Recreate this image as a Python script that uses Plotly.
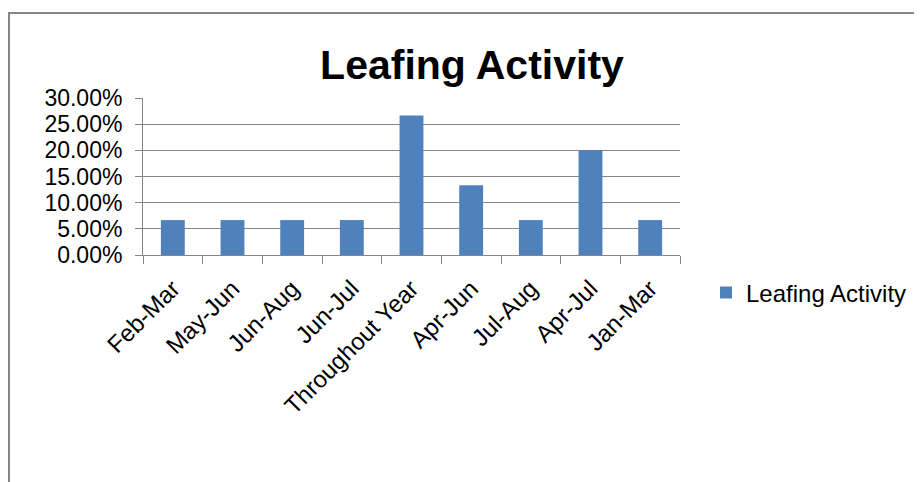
import plotly.graph_objects as go

categories = ["Feb-Mar", "May-Jun", "Jun-Aug", "Jun-Jul", "Throughout Year",
              "Apr-Jun", "Jul-Aug", "Apr-Jul", "Jan-Mar"]
values = [0.0667, 0.0667, 0.0667, 0.0667, 0.2667, 0.1333, 0.0667, 0.20, 0.0667]
series_name = "Leafing Activity"

FONT = "Liberation Sans"
GRAY = "#868686"

# page body has an 8px margin; positions below are in figure pixels
OFF = 8
L, R, T, B = 143 - OFF, 680 - OFF, 98 - OFF, 255 - OFF
W, H = 922, 482
pw, ph = R - L, B - T

fig = go.Figure()
fig.add_trace(go.Bar(
    x=categories, y=values, name=series_name,
    marker=dict(color="#4F81BD", line=dict(width=0)),
    showlegend=True,
))

fig.update_layout(
    width=W, height=H,
    margin=dict(l=L, r=W - R, t=T, b=H - B, pad=0),
    paper_bgcolor="white", plot_bgcolor="white",
    bargap=0.6,
    font=dict(family=FONT, size=22, color="black"),
    title=dict(text="<b>Leafing Activity</b>", font=dict(family=FONT, size=41, color="black"),
               x=(472 - OFF) / W, xanchor="center", y=(H - (65 - OFF)) / H, yanchor="middle"),
    showlegend=True,
    legend=dict(x=(706 - OFF - L) / pw, xanchor="left", y=(B - (293 - OFF)) / ph, yanchor="middle",
                font=dict(family=FONT, size=24, color="black"),
                bgcolor="rgba(0,0,0,0)"),
    xaxis=dict(
        type="category", showgrid=False, showline=True, linecolor=GRAY, linewidth=1,
        ticks="outside", ticklen=8, tickcolor=GRAY, tickson="boundaries",
        tickangle=-45, ticklabelstandoff=9,
        tickfont=dict(family=FONT, size=24, color="black"),
    ),
    yaxis=dict(
        range=[0, 0.30], dtick=0.05, tickformat=".2%",
        showgrid=True, gridcolor=GRAY, gridwidth=1,
        showline=True, linecolor=GRAY, linewidth=1,
        ticks="outside", ticklen=7, tickcolor=GRAY, ticklabelstandoff=8,
        tickfont=dict(family=FONT, size=23, color="black"), zeroline=False,
    ),
    shapes=[dict(type="rect", xref="paper", yref="paper",
                 x0=(9 - OFF - L) / pw, x1=(W + 30 - L) / pw,
                 y0=(B - (H + 30)) / ph, y1=(B - (13 - OFF)) / ph,
                 line=dict(color=GRAY, width=2), fillcolor="rgba(0,0,0,0)", layer="below")],
)

fig.write_html("out.html")
